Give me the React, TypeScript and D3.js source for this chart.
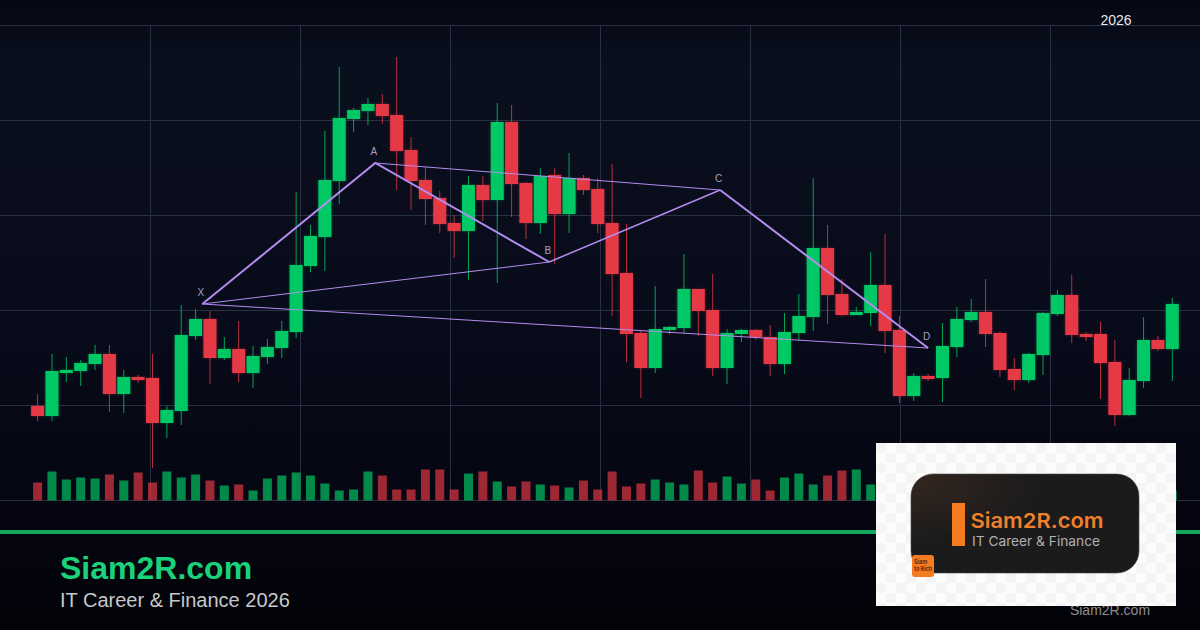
import React from "react";
import * as d3 from "d3";

const W = 1200, H = 630;
// OHLC
const highs = [106,146,143,140,155,155,130,125,146,94,195,191,189,163,179,154,161,179,308,275,369,433,392,402,406,443,363,333,309,285,324,324,397,395,318,332,332,347,325,322,336,276,169,214,174,246,211,226,171,171,171,175,187,206,322,275,221,193,248,266,184,127,126,177,193,201,221,168,142,147,188,210,225,168,178,160,132,183,164,202];
const bodyUpper = [94,129,130,137,146,146,123,123,122,90,165,181,181,151,151,144,153,169,235,264,320,382,390,396,396,385,350,320,302,277,315,315,378,378,317,324,325,322,322,311,277,227,167,171,173,211,211,190,167,170,170,163,168,184,252,252,206,188,215,215,170,124,124,154,181,188,188,167,131,146,187,205,205,166,166,138,120,160,160,196];
const bodyLower = [84,84,127,129,136,106,106,120,77,77,89,164,142,142,127,127,143,152,168,234,263,319,381,389,384,349,319,301,276,269,269,300,300,316,277,277,286,286,310,276,226,166,132,132,170,172,189,132,132,166,163,136,136,167,183,205,185,185,187,169,104,104,121,122,153,180,166,130,120,120,145,186,165,163,137,85,85,119,151,151];
const lows = [79,79,118,114,130,88,87,117,32,62,75,160,116,140,118,112,136,142,162,228,229,296,368,375,376,310,290,275,267,242,220,279,217,283,261,266,236,267,305,267,184,138,102,127,166,167,164,124,116,158,160,124,126,159,169,176,184,185,174,147,97,99,119,98,143,178,153,123,110,117,125,184,157,159,101,74,84,112,149,119];
const rising = [0,1,1,1,1,0,1,0,0,1,1,1,0,1,0,1,1,1,1,1,1,1,1,1,0,0,0,0,0,0,1,0,1,0,0,1,0,1,0,0,0,0,0,1,1,1,0,0,1,1,0,0,1,1,1,0,0,1,1,0,0,1,0,1,1,1,0,0,0,1,1,1,0,0,0,0,1,1,0,1];
const volumes = [18,29,21,23,22,26,20,28,18,29,23,26,20,15,16,10,22,25,28,25,17,10,11,29,25,11,11,31,31,11,27,29,19,14,19,16,15,13,20,11,29,14,17,21,18,16,30,18,24,17,21,10,23,27,16,25,30,31,16,20,22,26,14,28,20,24,22,16,25,18,29,14,20,24,28,15,22,18,26,10];
const patternNames = ["X", "A", "B", "C", "D"];
const patternBars = [11.47, 23.51, 35.62, 47.52, 62];
const patternPrices = [196, 337, 238, 310, 152];
const priceGrid = [475, 380, 285, 190, 95, 0];
const timeGrid = [150, 300, 450, 600, 750, 900, 1050];

const xScale = d3.scaleLinear().domain([0, 79]).range([37.6, 1172.3]);
const yScale = d3.scaleLinear().domain([0, 475]).range([500, 25]);
const vScale = d3.scaleLinear().domain([0, 31]).range([500.5, 469.5]);
const cRed = "#e63946", cGreen = "#00c864", cLine = "#b48cf0", cGrid = "#2a2f41";

export default function App() {
  const path = d3.line<number>().x(i => xScale(patternBars[i])).y(i => yScale(patternPrices[i]));
  return (
    <svg width={W} height={H} viewBox={`0 0 ${W} ${H}`} style={{ position: "fixed", left: 0, top: 0, display: "block" }} fontFamily="'Liberation Sans', Arial, sans-serif">
      <defs>
        <linearGradient id="bg" x1="0" y1="0" x2="0" y2="1">
          <stop offset="0" stopColor="#050812" />
          <stop offset="0.1" stopColor="#0a0f1e" />
          <stop offset="0.5" stopColor="#080b1a" />
          <stop offset="0.8" stopColor="#050612" />
          <stop offset="1" stopColor="#020208" />
        </linearGradient>
        <radialGradient id="logoBox" cx="0" cy="0.1" r="0.55">
          <stop offset="0" stopColor="#33261e" />
          <stop offset="1" stopColor="#1c1b1c" />
        </radialGradient>
        <pattern id="chk" width="20" height="20" patternUnits="userSpaceOnUse" x="876" y="443">
          <rect width="20" height="20" fill="#fcfcfc" />
          <rect width="10" height="10" fill="#f4f4f4" />
          <rect x="10" y="10" width="10" height="10" fill="#f4f4f4" />
        </pattern>
      </defs>
      <rect width={W} height={H} fill="url(#bg)" />
      {priceGrid.map(g => <line key={g} x1={0} x2={W} y1={yScale(g) + 0.5} y2={yScale(g) + 0.5} stroke={cGrid} strokeWidth={1} />)}
      {timeGrid.map(g => <line key={g} x1={g + 0.5} x2={g + 0.5} y1={25} y2={500} stroke={cGrid} strokeWidth={1} />)}
      <text x={1116} y={25} fontSize={14} textAnchor="middle" fill="#e8e8e8">2026</text>

      {volumes.map((v, i) => (
        <rect key={i} x={xScale(i) - 4.5} y={vScale(v)} width={9} height={vScale(0) - vScale(v)} fill={rising[i] ? cGreen : cRed} opacity={0.68} />
      ))}
      {bodyUpper.map((t, i) => {
        const c = rising[i] ? cGreen : cRed, x = xScale(i);
        return (
          <g key={i}>
            <line x1={x} x2={x} y1={yScale(highs[i])} y2={yScale(lows[i])} stroke={c} strokeWidth={1} opacity={0.8} />
            <rect x={x - 6.5} y={yScale(t)} width={13} height={yScale(bodyLower[i]) - yScale(t)} fill={c} style={{ filter: `drop-shadow(0 0 1.5px ${c}66)` }} />
          </g>
        );
      })}
      <path d={path([0, 1, 2]) ?? ""} fill="none" stroke={cLine} strokeWidth={2} />
      <path d={path([2, 3]) ?? ""} fill="none" stroke={cLine} strokeWidth={1.5} />
      <path d={path([3, 4]) ?? ""} fill="none" stroke={cLine} strokeWidth={2} />
      <path d={path([0, 2]) ?? ""} fill="none" stroke={cLine} strokeWidth={1} />
      <path d={path([1, 3]) ?? ""} fill="none" stroke={cLine} strokeWidth={1} />
      <path d={path([0, 4]) ?? ""} fill="none" stroke={cLine} strokeWidth={1} />
      {patternNames.map((n, i) => (
        <text key={n} x={xScale(patternBars[i]) - 1.5} y={yScale(patternPrices[i]) - 8} fontSize={10} textAnchor="middle" fill="#a5a0c0">{n}</text>
      ))}

      <rect x={0} y={530} width={W} height={4} fill="#14a85f" />
      <text x={60} y={579} fontSize={32} fontWeight={700} fill="#19d27a">Siam2R.com</text>
      <text x={60} y={607} fontSize={20} fill="#c8c8c8">IT Career &amp; Finance 2026</text>
      <text x={1110} y={615} fontSize={14} textAnchor="middle" fill="#8e8e8e">Siam2R.com</text>

      <rect x={876} y={443} width={300} height={163} fill="url(#chk)" />
      <rect x={911} y={474} width={228} height={99} rx={22} fill="url(#logoBox)" stroke="#4a4a4a" strokeWidth={0.6} />
      <rect x={952} y={503} width={13} height={43} fill="#f47b20" />
      <text x={970.5} y={528} fontSize={20.5} fontWeight={600} textLength={133} lengthAdjust="spacingAndGlyphs" fontFamily="Inter, 'Noto Sans', sans-serif" fill="#f0802a">Siam2R.com</text>
      <text x={972} y={546} fontSize={13} textLength={128} lengthAdjust="spacingAndGlyphs" fontFamily="Inter, 'Noto Sans', sans-serif" fill="#b0b0b0">IT Career &amp; Finance</text>
      <rect x={912} y={555} width={22} height={22} rx={3} fill="#f47b20" />
      <text x={914} y={564} fontSize={5.5} fontWeight={600} fontFamily="Inter, sans-serif" fill="#3a2412">Siam</text>
      <text x={914} y={571} fontSize={5.5} fontWeight={600} fontFamily="Inter, sans-serif" fill="#3a2412">to Rich</text>
    </svg>
  );
}
